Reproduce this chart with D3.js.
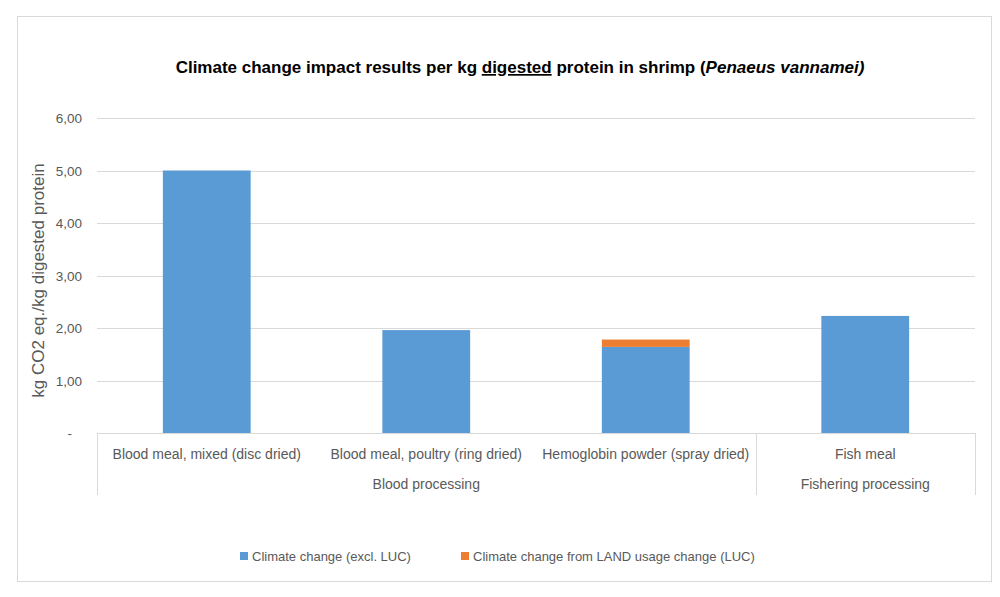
<!DOCTYPE html>
<html>
<head>
  <title>Climate change impact</title>
  <script src="https://d3js.org/d3.v7.min.js"></script>
  <style>
    body { margin: 0; background: #fff; }
    text { font-family: "Liberation Sans", Arial, sans-serif; }
  </style>
</head>
<body>
<script type="text/javascript">
  var categories = ["Blood meal, mixed (disc dried)", "Blood meal, poultry (ring dried)",
                    "Hemoglobin powder (spray dried)", "Fish meal"];
  var groups = ["Blood processing", "Blood processing", "Blood processing", "Fishering processing"];
  var exclLUC = [5.00, 1.96, 1.64, 2.23];
  var fromLUC = [0, 0, 0.14, 0];
  var seriesNames = ["Climate change (excl. LUC)", "Climate change from LAND usage change (LUC)"];
  var yTicks = [0, 1, 2, 3, 4, 5, 6];

  var w = 1000, h = 597;
  var colors = ["#5B9BD5", "#ED7D31"];
  var grey = "#595959";

  var svg = d3.select("body").append("svg")
    .attr("width", w)
    .attr("height", h);

  // chart frame
  svg.append("rect")
    .attr("x", 17.5).attr("y", 16.5)
    .attr("width", 974).attr("height", 565)
    .attr("fill", "#fff")
    .attr("stroke", "#D9D9D9");

  var plotL = 97, plotR = 975, plotT = 118, plotB = 433;

  var x = d3.scaleBand()
    .domain(categories)
    .range([plotL, plotR])
    .paddingInner(0.6)
    .paddingOuter(0.3);

  var y = d3.scaleLinear()
    .domain([0, 6])
    .range([plotB, plotT]);

  // gridlines
  svg.selectAll("line.grid")
    .data(yTicks.filter(function(d){ return d > 0; }))
    .enter()
    .append("line")
    .attr("class", "grid")
    .attr("x1", plotL).attr("x2", plotR)
    .attr("y1", function(d){ return Math.round(y(d)) + 0.5; })
    .attr("y2", function(d){ return Math.round(y(d)) + 0.5; })
    .attr("stroke", "#D9D9D9");

  // y tick labels
  svg.selectAll("text.ytick")
    .data(yTicks)
    .enter()
    .append("text")
    .attr("class", "ytick")
    .attr("x", function(d){ return d === 0 ? 72 : 82; })
    .attr("y", function(d){ return y(d) + 5; })
    .attr("text-anchor", "end")
    .attr("font-size", 13.5)
    .attr("fill", grey)
    .text(function(d){ return d === 0 ? "-" : d.toFixed(2).replace(".", ","); });

  // stacked bars
  var rows = categories.map(function(c, i){
    return { cat: c, a: exclLUC[i], b: fromLUC[i] };
  });

  svg.selectAll("rect.a")
    .data(rows)
    .enter()
    .append("rect")
    .attr("class", "a")
    .attr("x", function(d){ return x(d.cat); })
    .attr("width", x.bandwidth())
    .attr("y", function(d){ return y(d.a); })
    .attr("height", function(d){ return y(0) - y(d.a); })
    .attr("fill", colors[0]);

  svg.selectAll("rect.b")
    .data(rows.filter(function(d){ return d.b > 0; }))
    .enter()
    .append("rect")
    .attr("class", "b")
    .attr("x", function(d){ return x(d.cat); })
    .attr("width", x.bandwidth())
    .attr("y", function(d){ return y(d.a + d.b); })
    .attr("height", function(d){ return y(d.a) - y(d.a + d.b); })
    .attr("fill", colors[1]);

  // category axis with group boxes
  var step = x.step();
  var catCenter = function(c){ return x(c) + x.bandwidth() / 2; };

  svg.append("line")
    .attr("x1", plotL).attr("x2", plotR)
    .attr("y1", plotB + 0.5).attr("y2", plotB + 0.5)
    .attr("stroke", "#D9D9D9");

  // group spans
  var spans = [];
  groups.forEach(function(g, i){
    if (spans.length && spans[spans.length - 1].name === g) spans[spans.length - 1].end = i;
    else spans.push({ name: g, start: i, end: i });
  });

  var edgeX = function(i){ return x(categories[i]) - (step - x.bandwidth()) / 2; };
  var seps = spans.map(function(s){ return edgeX(s.start); }).concat([plotR]);
  seps[0] = plotL;

  svg.selectAll("line.sep")
    .data(seps)
    .enter()
    .append("line")
    .attr("class", "sep")
    .attr("x1", function(d){ return Math.round(d) + 0.5; })
    .attr("x2", function(d){ return Math.round(d) + 0.5; })
    .attr("y1", plotB).attr("y2", 495)
    .attr("stroke", "#D9D9D9");

  svg.selectAll("text.cat")
    .data(categories)
    .enter()
    .append("text")
    .attr("class", "cat")
    .attr("x", catCenter)
    .attr("y", 459)
    .attr("text-anchor", "middle")
    .attr("font-size", 14)
    .attr("fill", grey)
    .text(function(d){ return d; });

  svg.selectAll("text.grp")
    .data(spans)
    .enter()
    .append("text")
    .attr("class", "grp")
    .attr("x", function(s){ return (catCenter(categories[s.start]) + catCenter(categories[s.end])) / 2; })
    .attr("y", 489)
    .attr("text-anchor", "middle")
    .attr("font-size", 14)
    .attr("fill", grey)
    .text(function(s){ return s.name; });

  // y axis title
  svg.append("text")
    .attr("transform", "translate(44," + ((plotT + plotB) / 2 + 5) + ") rotate(-90)")
    .attr("text-anchor", "middle")
    .attr("font-size", 17)
    .attr("fill", grey)
    .text("kg CO2 eq./kg digested protein");

  // chart title
  var title = svg.append("text")
    .attr("x", 520).attr("y", 73)
    .attr("text-anchor", "middle")
    .attr("font-size", 17)
    .attr("font-weight", "bold")
    .attr("fill", "#000");
  title.append("tspan").text("Climate change impact results per kg ");
  title.append("tspan").attr("text-decoration", "underline").text("digested");
  title.append("tspan").text(" protein in shrimp (");
  title.append("tspan").attr("font-style", "italic").text("Penaeus  vannamei)");

  // legend
  var legX = [240, 461];
  var leg = svg.selectAll("g.leg")
    .data(seriesNames)
    .enter()
    .append("g")
    .attr("class", "leg")
    .attr("transform", function(d, i){ return "translate(" + legX[i] + ",552)"; });
  leg.append("rect")
    .attr("width", 8).attr("height", 8)
    .attr("fill", function(d, i){ return colors[i]; });
  leg.append("text")
    .attr("x", 12).attr("y", 9)
    .attr("font-size", 13)
    .attr("fill", grey)
    .text(function(d){ return d; });
</script>
</body>
</html>
